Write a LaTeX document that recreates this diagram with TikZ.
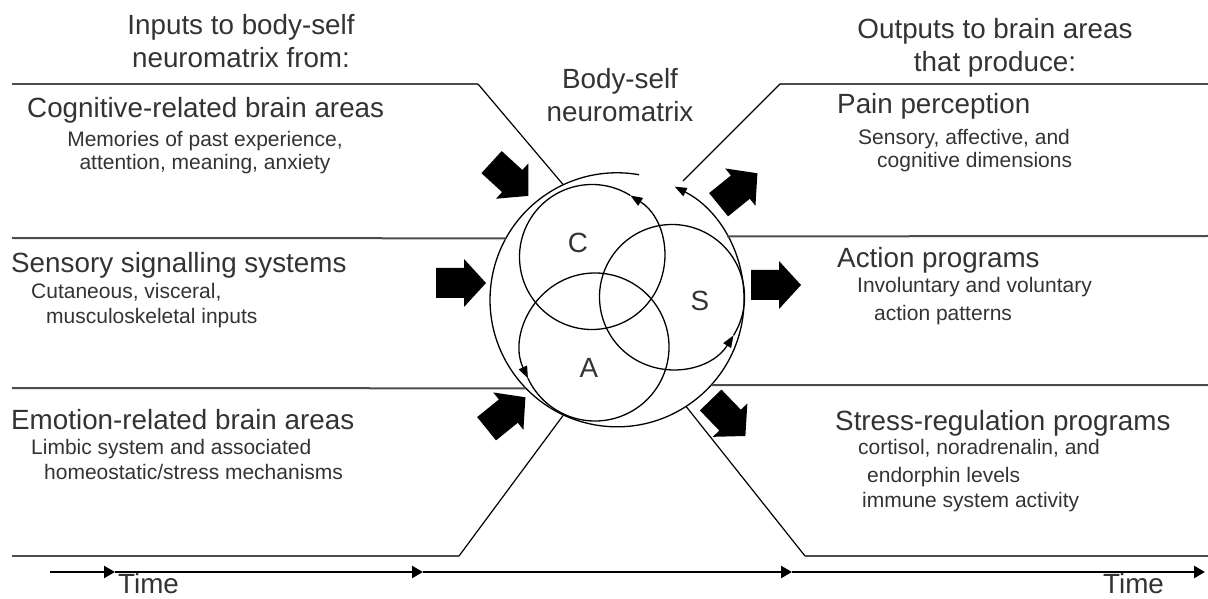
\documentclass[tikz,border=0pt]{standalone}
\usepackage{fontspec}
\setmainfont{Liberation Sans}
\usetikzlibrary{arrows.meta, positioning, calc}

\newcommand\titlesize{\fontsize{27.8pt}{33pt}\selectfont}
\newcommand\notesize{\fontsize{21pt}{25pt}\selectfont}

\begin{document}
\begin{tikzpicture}[
    x=1pt, y=1pt,
    heading/.style={font=\titlesize, text=black!80, inner sep=0pt, anchor=base west},
    note/.style={font=\notesize, text=black!80, inner sep=0pt, anchor=base west, align=left},
    band/.style={draw=black!70, line width=2pt},
    diag/.style={draw=black, line width=1.2pt},
    cyc/.style={draw=black, line width=1.3pt, -{Triangle[length=12pt,width=9pt]}},
    timeline/.style={draw=black, line width=2.4pt, -{Triangle[length=11pt,width=12pt]}},
    fatarrow/.pic={\fill[black] (-25,-15) -- (3,-15) -- (3,-24) -- (25,0) -- (3,24) -- (3,15) -- (-25,15) -- cycle;}
]
\useasboundingbox (0,0) rectangle (1208,598);

% neuromatrix and its three circles
\node[circle, minimum size=254pt, inner sep=0pt] (nm) at (617,298) {};
\coordinate (cC) at (592,341);
\coordinate (cA) at (595,251);
\coordinate (cS) at (672,301);
\draw[cyc] (nm.80) arc[start angle=80, end angle=423, radius=127];
\draw[cyc] ($(cC)+(58:72.5)$) arc[start angle=58, delta angle=360, radius=72.5];
\draw[cyc] ($(cA)+(205:74)$) arc[start angle=205, delta angle=360, radius=74];
\draw[cyc] ($(cS)+(-32:72.5)$) arc[start angle=-32, delta angle=360, radius=72.5];
\node[heading, anchor=center] (lC) at (578,355) {C};
\node[heading, anchor=center] (lA) at (589,230) {A};
\node[heading, anchor=center] (lS) at (700,297) {S};

% band borders
\coordinate (inTop) at (478,514);
\coordinate (inBot) at (459,42);
\coordinate (outTop) at (780,514);
\coordinate (outBot) at (805,42);
\coordinate (outTip) at (683,417);
\draw[band] (12,514) -- (inTop);
\draw[diag] (inTop) -- (nm.115);
\draw[band] (12,360) -- (nm.151);
\draw[band] (12,210) -- (nm.224);
\draw[band] (12,42) -- (inBot);
\draw[diag] (inBot) -- (nm.245);
\draw[band] (outTop) -- (1208,514);
\draw[diag] (outTip) -- (outTop);
\draw[band] (nm.30) -- (1208,362);
\draw[band] (nm.-42) -- (1208,213);
\draw[diag] (nm.-57) -- (outBot);
\draw[band] (outBot) -- (1208,42);

% big arrows in and out
\pic[rotate=-42.5] at (510,419) {fatarrow};
\pic at (461,315) {fatarrow};
\pic[rotate=39] at (506,185) {fatarrow};
\pic[rotate=39] at (738,409) {fatarrow};
\pic at (776,313) {fatarrow};
\pic[rotate=-46] at (728,180) {fatarrow};

% headings (base = last line)
\node[heading, anchor=base, align=center] (inhead) at (241,530) {Inputs to body-self\\neuromatrix from:};
\node[heading, anchor=base, align=center] (nmhead) at (620,476) {Body-self\\neuromatrix};
\node[heading, anchor=base, align=center] (outhead) at (995,526) {Outputs to brain areas\\that produce:};

% inputs
\node[heading] (cog) at (27,480) {Cognitive-related brain areas};
\node[note, anchor=base, align=center] (cogtxt) at (205,428) {Memories of past experience,\\[-2pt]attention, meaning, anxiety};
\node[heading] (sen) at (11,325) {Sensory signalling systems};
\node[note] (sentxt) at (31,274) {Cutaneous, visceral,\\\hspace*{15pt}musculoskeletal inputs};
\node[heading] (emo) at (11,169) {Emotion-related brain areas};
\node[note] (emotxt) at (31,119) {Limbic system and associated\\\hspace*{13pt}homeostatic/stress mechanisms};

% outputs
\node[heading] (pain) at (837,484) {Pain perception};
\node[note] (paintxt) at (858,430) {Sensory, affective, and\\[-2pt]\hspace*{19pt}cognitive dimensions};
\node[heading] (act) at (837,330) {Action programs};
\node[note] (acttxt) at (857,277) {Involuntary and voluntary\\[3pt]\hspace*{17pt}action patterns};
\node[heading] (str) at (835,168) {Stress-regulation programs};
\node[note] (strtxt) at (858,91) {cortisol, noradrenalin, and\\[3pt]\hspace*{9pt}endorphin levels\\\hspace*{4pt}immune system activity};

% time axis
\coordinate (t0) at (50,26);
\coordinate (t1) at (115,26);
\coordinate (t2) at (423,26);
\coordinate (t3) at (792,26);
\coordinate (t4) at (1205,26);
\draw[timeline] (t0) -- (t1);
\draw[timeline] (t1) -- (t2);
\draw[timeline] (t2) -- (t3);
\draw[timeline] (t3) -- (t4);
\node[heading] (time1) at (118,5) {Time};
\node[heading] (time2) at (1103,5) {Time};
\end{tikzpicture}
\end{document}
